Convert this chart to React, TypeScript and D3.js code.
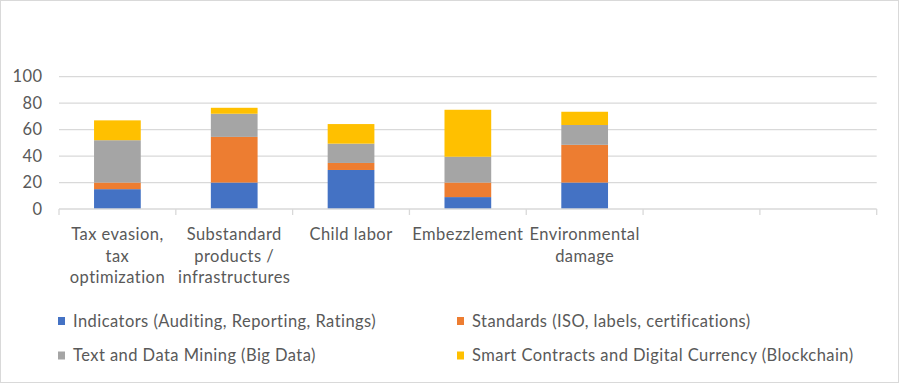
import React from "react";
import * as d3 from "d3";

const categories = [
  "Tax evasion,\ntax\noptimization",
  "Substandard\nproducts /\ninfrastructures",
  "Child labor",
  "Embezzlement",
  "Environmental\ndamage",
  "",
  "",
];
const seriesNames = [
  "Indicators (Auditing, Reporting, Ratings)",
  "Standards (ISO, labels, certifications)",
  "Text and Data Mining (Big Data)",
  "Smart Contracts and Digital Currency (Blockchain)",
];
const indicators = [15, 20, 29.5, 9, 20, 0, 0];
const standards = [5, 34.5, 5.3, 11, 28.5, 0, 0];
const textMining = [32, 17.5, 14.6, 19.5, 15, 0, 0];
const smartContracts = [15, 4.5, 14.8, 35.5, 10, 0, 0];
const yTicks = [0, 20, 40, 60, 80, 100];
const colors = ["#4472C4", "#ED7D31", "#A5A5A5", "#FFC000"];

const W = 899;
const H = 383;
const FONT = "Lato, 'Noto Sans', sans-serif";
const TXT = "#595959";
const FS = 16.5;
const LS = 0.45;

export default function App() {
  const x = d3.scaleBand<number>().domain(d3.range(categories.length)).range([59, 876.7]).paddingInner(0).paddingOuter(0);
  const y = d3.scaleLinear().domain([0, 100]).range([209, 76.7]);
  const barW = x.bandwidth() / 2.5;

  const rows = categories.map((c, i) => ({
    i,
    v0: indicators[i],
    v1: standards[i],
    v2: textMining[i],
    v3: smartContracts[i],
  }));
  const stack = d3.stack<any>().keys(["v0", "v1", "v2", "v3"])(rows);

  const legendPos = [
    { x: 58, y: 321 },
    { x: 457, y: 321 },
    { x: 58, y: 355.5 },
    { x: 457, y: 355.5 },
  ];

  return (
    <svg width={W} height={H} style={{ display: "block", position: "absolute", left: 0, top: 0 }} fontFamily={FONT}>
      <rect x={0.5} y={0.5} width={W - 1} height={H - 1} fill="#fff" stroke="#d9d9d9" />
      {yTicks.map((t) => (
        <g key={t}>
          {t > 0 && <line x1={59} x2={876.7} y1={y(t)} y2={y(t)} stroke="#d9d9d9" strokeWidth={1.3} />}
          <text x={42.5} y={y(t)} dy="0.35em" textAnchor="end" fontSize={FS} letterSpacing={LS} fill={TXT}>
            {t}
          </text>
        </g>
      ))}
      {stack.map((s, si) =>
        s.map((d, di) =>
          d[1] - d[0] > 0 ? (
            <rect
              key={`${si}-${di}`}
              x={(x(di) as number) + (x.bandwidth() - barW) / 2}
              width={barW}
              y={y(d[1])}
              height={y(d[0]) - y(d[1])}
              fill={colors[si]}
            />
          ) : null
        )
      )}
      <line x1={59} x2={876.7} y1={y(0)} y2={y(0)} stroke="#d9d9d9" strokeWidth={1.3} />
      {d3.range(categories.length + 1).map((i) => {
        const xx = 59 + i * x.step();
        return <line key={i} x1={xx} x2={xx} y1={y(0)} y2={y(0) + 6} stroke="#d9d9d9" strokeWidth={1.3} />;
      })}
      {categories.map((c, i) => (
        <text key={i} textAnchor="middle" fontSize={FS} letterSpacing={LS} fill={TXT}>
          {c.split("\n").map((line, li) => (
            <tspan key={li} x={(x(i) as number) + x.bandwidth() / 2} y={240 + li * 21.7}>
              {line}
            </tspan>
          ))}
        </text>
      ))}
      {seriesNames.map((n, i) => (
        <g key={n}>
          <rect x={legendPos[i].x} y={legendPos[i].y - 4} width={7} height={8} fill={colors[i]} />
          <text x={legendPos[i].x + 15} y={legendPos[i].y} dy="0.35em" fontSize={FS} letterSpacing={LS} fill={TXT}>
            {n}
          </text>
        </g>
      ))}
    </svg>
  );
}
